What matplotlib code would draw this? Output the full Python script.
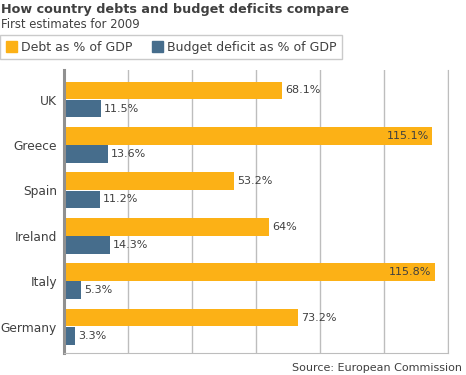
import matplotlib.pyplot as plt
from matplotlib.patches import Patch
import numpy as np

countries = ['UK', 'Greece', 'Spain', 'Ireland', 'Italy', 'Germany']
debt = [68.1, 115.1, 53.2, 64, 115.8, 73.2]
deficit = [11.5, 13.6, 11.2, 14.3, 5.3, 3.3]
debt_labels = ['68.1%', '115.1%', '53.2%', '64%', '115.8%', '73.2%']
deficit_labels = ['11.5%', '13.6%', '11.2%', '14.3%', '5.3%', '3.3%']

ORANGE = '#fcb116'
BLUE = '#466d8c'
TEXT = '#404040'
GRID = '#bdbdbd'

plt.rcParams['font.family'] = 'DejaVu Sans'

fig = plt.figure(figsize=(4.66, 3.75), dpi=100)
ax = fig.add_axes([64 / 466, 22 / 375, 384 / 466, 283 / 375])

y = np.arange(len(countries))
h = 0.39
ax.barh(y - 0.2, debt, height=h, color=ORANGE, zorder=2)
ax.barh(y + 0.2, deficit, height=h, color=BLUE, zorder=2)

for i in range(len(countries)):
    if debt[i] > 100:
        ax.text(debt[i] - 1, y[i] - 0.2, debt_labels[i], ha='right', va='center',
                fontsize=8, color=TEXT, zorder=3)
    else:
        ax.text(debt[i] + 1, y[i] - 0.2, debt_labels[i], ha='left', va='center',
                fontsize=8, color=TEXT, zorder=3)
    ax.text(deficit[i] + 1, y[i] + 0.2, deficit_labels[i], ha='left', va='center',
            fontsize=8, color=TEXT, zorder=3)

ax.set_xlim(0, 120)
ax.set_ylim(5.58, -0.65)
ax.set_xticks(range(20, 121, 20))
ax.set_xticklabels([])
ax.set_yticks(y)
ax.set_yticklabels(countries, fontsize=8.8, color=TEXT)
ax.tick_params(axis='both', length=0, pad=5)
ax.grid(axis='x', color=GRID, linewidth=1, zorder=0)

ax.spines['top'].set_visible(False)
ax.spines['right'].set_color(GRID)
ax.spines['bottom'].set_color(GRID)
ax.spines['left'].set_color('#909090')
ax.spines['left'].set_linewidth(2.2)

fig.text(0.002, 1 - 10 / 375, 'How country debts and budget deficits compare',
         fontsize=9.2, fontweight='bold', color=TEXT, va='center', ha='left')
fig.text(0.002, 1 - 24 / 375, 'First estimates for 2009',
         fontsize=8.4, color=TEXT, va='center', ha='left')

handles = [Patch(color=ORANGE, label='Debt as % of GDP'),
           Patch(color=BLUE, label='Budget deficit as % of GDP')]
leg = fig.legend(handles=handles, loc='upper left', bbox_to_anchor=(0.0, 1 - 35 / 375),
                 ncol=2, fontsize=9, frameon=True, fancybox=False, edgecolor=GRID,
                 handlelength=0.9, handleheight=0.9, handletextpad=0.3,
                 columnspacing=1.6, borderpad=0.45, borderaxespad=0)
for t in leg.get_texts():
    t.set_color(TEXT)
leg.get_frame().set_linewidth(1)

fig.text(1 - 4 / 466, 1 - 368 / 375, 'Source: European Commission',
         fontsize=8, color=TEXT, va='center', ha='right')

fig.savefig('out.png', dpi=100)
